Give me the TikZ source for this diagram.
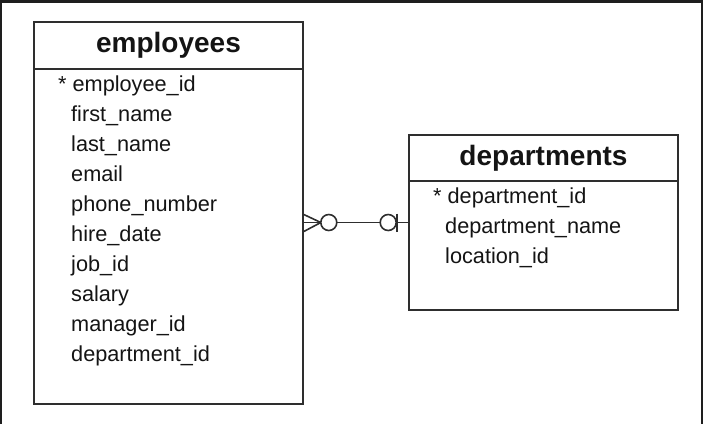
\documentclass[tikz,border=0pt]{standalone}
\usepackage{fontspec}
\setmainfont{Liberation Sans}
\usetikzlibrary{positioning,calc}
\definecolor{framegray}{HTML}{1E1E1E}
\definecolor{linegray}{HTML}{2E2E2E}
\definecolor{textgray}{HTML}{141414}

\begin{document}
\begin{tikzpicture}[
	x=1pt, y=-1pt,
	table/.style={draw=linegray, line width=1.6pt, inner sep=0pt},
	tabletitle/.style={anchor=base, inner sep=0pt, text=textgray, font=\fontsize{28}{28}\selectfont\bfseries},
	field/.style={anchor=base west, inner sep=0pt, text=textgray, font=\fontsize{21.7}{21.7}\selectfont},
	relation/.style={draw=linegray, line width=1.6pt}
	]
	
	\useasboundingbox (0,0) rectangle (703,424);
	
	% Outer frame
	\fill[framegray] (0,0) rectangle (703,3);
	\fill[framegray] (0,0) rectangle (2,424);
	\fill[framegray] (701,0) rectangle (703,424);
	
	% Tables
	\node[table, minimum width=269pt, minimum height=382pt] (emp) at (168.5,213) {};
	\node[table, minimum width=269pt, minimum height=175pt] (dep) at (543.5,222.5) {};
	
	% Headers
	\node[tabletitle] (emptitle) at ($(emp.north)+(0,31)$) {employees};
	\draw[relation] ($(emp.north west)+(0,48)$) -- ($(emp.north east)+(0,48)$);
	\node[tabletitle] (deptitle) at ($(dep.north)+(0,31)$) {departments};
	\draw[relation] ($(dep.north west)+(0,47)$) -- ($(dep.north east)+(0,47)$);
	
	% Employee fields
	\node[field] (empkey) at (58,91) {* employee\_id};
	\foreach \f [count=\i] in {first\_name, last\_name, email, phone\_number, hire\_date, job\_id, salary, manager\_id, department\_id}
		\node[field] (empf\i) at (71, 91+30*\i) {\f};
	
	% Department fields
	\node[field] (depkey) at (433,203) {* department\_id};
	\foreach \f [count=\i] in {department\_name, location\_id}
		\node[field] (depf\i) at (445, 203+30*\i) {\f};
	
	% Relationship: many (optional) employees to one (optional) department
	\coordinate (manyend) at (dep.west -| emp.east);
	\coordinate (crow) at ($(manyend)+(17,0)$);
	\draw[relation] (manyend) -- (dep.west);
	\draw[relation] ($(manyend)+(0,-8)$) -- (crow) -- ($(manyend)+(0,9)$);
	\draw[relation, fill=white] ($(crow)+(8,0)$) circle (8);
	\draw[relation, fill=white] ($(dep.west)+(-20,0)$) circle (8);
	\draw[relation] ($(dep.west)+(-11,-9)$) -- ($(dep.west)+(-11,9)$);
	
\end{tikzpicture}
\end{document}
